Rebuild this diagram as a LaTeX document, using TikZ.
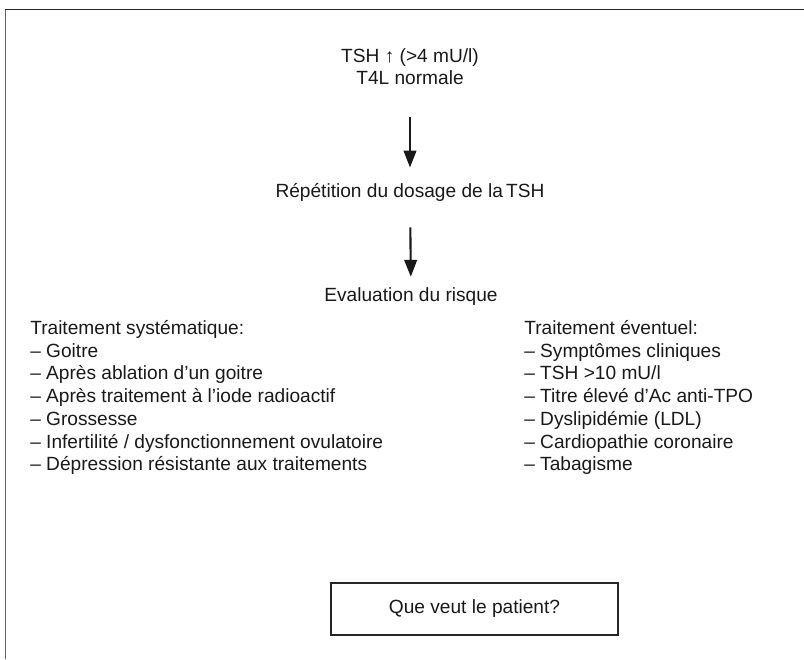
\documentclass[tikz,border=0pt]{standalone}
\usepackage{fontspec}
\setmainfont{Liberation Sans}
\usepackage{tikz}
\usetikzlibrary{arrows.meta,positioning}

\begin{document}
\begin{tikzpicture}[>={Triangle[length=12pt,width=9pt]},
  txt/.style={inner sep=0pt, text=black!90, font=\fontsize{13.6}{16.2}\selectfont},
  lone/.style={txt, text height=10pt, text depth=2.8pt},
  flow/.style={->, line width=1.5pt, black!90}]

\useasboundingbox (0,0) rectangle (20.1,16.475);

% frame (only top and left edges show)
\draw [line width=1pt, gray!80!black] (0.1375,0) -- (0.1375,16.2375);
\draw [line width=1pt, black!85] (0.1375,16.2375) -- (20.1,16.2375);

\node [txt] (tsh) at (10.25,14.75) {\begin{tabular}{c}TSH ↑ (>4 mU/l)\\ T4L normale\end{tabular}};
\node [lone] (repet) at (10.25,11.675) {Répétition du dosage de la\,TSH};
\node [lone] (risque) at (10.275,9.075) {Evaluation du risque};

\node [txt, anchor=west] (syst) at (0.75,6.525) {\begin{tabular}{@{}l@{}}
Traitement systématique:\\
– Goitre\\
– Après ablation d’un goitre\\
– Après traitement à l’iode radioactif\\
– Grossesse\\
– Infertilité / dysfonctionnement ovulatoire\\
– Dépression résistante aux traitements\end{tabular}};

\node [txt, anchor=west] (event) at (13.1,6.525) {\begin{tabular}{@{}l@{}}
Traitement éventuel:\\
– Symptômes cliniques\\
– TSH >10 mU/l\\
– Titre élevé d’Ac anti-TPO\\
– Dyslipidémie (LDL)\\
– Cardiopathie coronaire\\
– Tabagisme\end{tabular}};

\node [txt, draw=black!85, line width=1pt, minimum width=7.175cm, minimum height=1.3cm] (patient) at (11.8625,1.25) {Que veut le patient?};

\draw [flow, shorten <=0.62cm, shorten >=0.38cm] (tsh) -- (repet);
\draw [flow, shorten <=0.65cm, shorten >=0.25cm] (repet) -- (risque);

\end{tikzpicture}
\end{document}
